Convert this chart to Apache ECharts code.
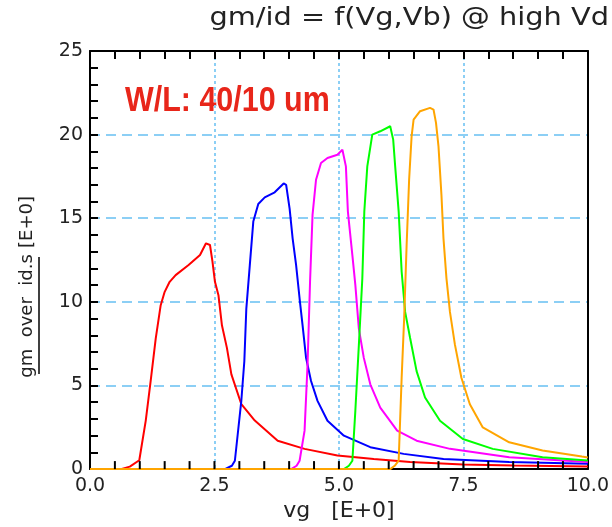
<!DOCTYPE html>
<html>
<head>
<meta charset="utf-8">
<script src="https://cdn.jsdelivr.net/npm/echarts@6/dist/echarts.min.js"></script>
<style>
  html, body { margin: 0; padding: 0; background: #fff; }
  #chart { width: 612px; height: 527px; }
</style>
</head>
<body>
<div id="chart"></div>
<script>
// gm/id versus gate voltage, one curve per body bias
const xTicks = [0, 2.5, 5, 7.5, 10];
const yTicks = [0, 5, 10, 15, 20, 25];
// small inward ticks along the bottom edge
const bottomTickVg = [0.5, 1, 1.5, 2, 2.5, 3, 3.5, 4, 4.5, 5, 5.5, 6, 6.5, 7, 7.5, 8, 8.5, 9, 9.5];

const redVg = [0, 0.62, 0.8, 0.99, 1.12, 1.22, 1.32, 1.42, 1.5, 1.6, 1.72, 1.98, 2.21, 2.33, 2.41, 2.46, 2.51, 2.58, 2.65, 2.75, 2.84, 3.04, 3.31, 3.77, 4.31, 4.97, 5.7, 6.43, 7.49, 8.5, 10];
const redGm = [0, 0, 0.15, 0.53, 2.9, 5.3, 7.8, 9.8, 10.6, 11.2, 11.6, 12.2, 12.8, 13.5, 13.4, 12.4, 11.2, 10.4, 8.6, 7.25, 5.66, 3.88, 2.9, 1.7, 1.21, 0.81, 0.61, 0.42, 0.28, 0.22, 0.16];

const blueVg = [0, 2.71, 2.85, 2.91, 3.04, 3.1, 3.14, 3.21, 3.28, 3.38, 3.51, 3.71, 3.89, 3.94, 4.01, 4.07, 4.14, 4.21, 4.27, 4.34, 4.44, 4.57, 4.77, 5.1, 5.63, 6.3, 7.1, 8.42, 10];
const blueGm = [0, 0, 0.2, 0.5, 4.1, 6.45, 9.6, 12.2, 14.8, 15.85, 16.25, 16.55, 17.08, 17.0, 15.56, 13.8, 12.2, 10.2, 8.6, 6.65, 5.27, 4.08, 2.89, 2.0, 1.31, 0.91, 0.61, 0.42, 0.32];

const magentaVg = [0, 4.04, 4.15, 4.21, 4.31, 4.37, 4.42, 4.47, 4.54, 4.64, 4.77, 4.97, 5.07, 5.14, 5.18, 5.27, 5.33, 5.4, 5.5, 5.63, 5.83, 6.17, 6.56, 7.23, 8.42, 10];
const magentaGm = [0, 0, 0.2, 0.5, 2.3, 6.25, 11.2, 15.2, 17.3, 18.3, 18.6, 18.8, 19.1, 18.1, 15.4, 12.8, 11.0, 8.4, 6.65, 5.07, 3.68, 2.3, 1.7, 1.21, 0.71, 0.42];

const greenVg = [0, 5.1, 5.2, 5.27, 5.33, 5.4, 5.47, 5.51, 5.57, 5.67, 5.83, 6.03, 6.09, 6.13, 6.2, 6.26, 6.33, 6.43, 6.56, 6.73, 7.03, 7.49, 8.09, 9.09, 10];
const greenGm = [0, 0, 0.2, 0.5, 3.5, 7.4, 11.4, 15.4, 18.1, 20.0, 20.2, 20.5, 19.7, 18.1, 15.4, 11.8, 9.4, 7.84, 5.86, 4.28, 2.89, 1.8, 1.21, 0.71, 0.52];

const orangeVg = [0, 6.03, 6.12, 6.2, 6.26, 6.31, 6.36, 6.41, 6.46, 6.5, 6.63, 6.83, 6.9, 6.95, 7.0, 7.06, 7.1, 7.16, 7.23, 7.33, 7.46, 7.63, 7.89, 8.42, 9.09, 9.88, 10];
const orangeGm = [0, 0, 0.2, 0.5, 5.46, 9.0, 13.4, 17.3, 19.9, 20.9, 21.4, 21.6, 21.5, 20.7, 19.3, 16.35, 13.8, 11.4, 9.4, 7.44, 5.46, 3.88, 2.49, 1.6, 1.11, 0.75, 0.7];

const curves = [
  { name: 'red', vg: redVg, gm: redGm, color: '#ff0000' },
  { name: 'blue', vg: blueVg, gm: blueGm, color: '#0000ff' },
  { name: 'magenta', vg: magentaVg, gm: magentaGm, color: '#ff00ff' },
  { name: 'green', vg: greenVg, gm: greenGm, color: '#00ff00' },
  { name: 'orange', vg: orangeVg, gm: orangeGm, color: '#ffa500' }
];

const gridBlue = '#8ccff5';
const xMin = xTicks[0], xMax = xTicks[xTicks.length - 1];
const yMin = yTicks[0], yMax = yTicks[yTicks.length - 1];
const xStep = xTicks[1] - xTicks[0];
const yStep = yTicks[1] - yTicks[0];

function labelFont() {
  return { fontFamily: 'DejaVu Sans', fontSize: 19, color: '#222' };
}
function tickStyle() {
  return { show: true, inside: true, length: 8, lineStyle: { color: '#000', width: 2 } };
}
function minorStyle() {
  return { show: true, splitNumber: 5, length: 8, lineStyle: { color: '#000', width: 2 } };
}
function frameLine() {
  return { show: true, onZero: false, lineStyle: { color: '#000', width: 2 } };
}

const chart = echarts.init(document.getElementById('chart'), null, { renderer: 'canvas' });

const curveSeries = curves.map(c => ({
  name: c.name,
  type: 'line',
  xAxisIndex: 0, yAxisIndex: 0,
  z: 2,
  data: c.vg.map((v, i) => [v, c.gm[i]]),
  showSymbol: false,
  clip: false,
  lineStyle: { color: c.color, width: 2 },
  itemStyle: { color: c.color }
}));

// bottom-edge ticks, placed through the x scale and drawn over the curves
const bottomTickSeries = {
  name: 'bottom ticks',
  type: 'custom',
  xAxisIndex: 0, yAxisIndex: 0,
  z: 6,
  silent: true,
  clip: false,
  data: bottomTickVg.map(v => [v, yMin]),
  encode: { x: 0, y: 1 },
  renderItem: (params, api) => {
    const p = api.coord([api.value(0), api.value(1)]);
    return {
      type: 'line',
      shape: { x1: p[0], y1: p[1], x2: p[0], y2: p[1] - 8 },
      style: { stroke: '#000', lineWidth: 2 }
    };
  }
};

chart.setOption({
  animation: false,
  backgroundColor: '#fff',
  grid: { left: 90, right: 21, top: 51, bottom: 55, containLabel: false },
  xAxis: [
    {
      // bottom frame, labels, name and vertical grid lines (under the curves)
      type: 'value', min: xMin, max: xMax, interval: xStep,
      position: 'bottom', z: 0,
      name: 'vg   [E+0]', nameLocation: 'middle', nameGap: 28,
      nameTextStyle: { fontFamily: 'DejaVu Sans', fontSize: 22, color: '#222' },
      axisLine: frameLine(),
      axisTick: { show: false },
      axisLabel: Object.assign({ margin: 7, formatter: v => v.toFixed(1) }, labelFont()),
      splitLine: { show: true, lineStyle: { color: gridBlue, type: [3, 3], width: 2 } }
    },
    {
      // top frame with inward ticks
      type: 'value', min: xMin, max: xMax, interval: xStep,
      position: 'top', z: 5,
      axisLine: frameLine(),
      axisTick: tickStyle(), minorTick: minorStyle(),
      axisLabel: { show: false }, splitLine: { show: false }
    }
  ],
  yAxis: [
    {
      type: 'value', min: yMin, max: yMax, interval: yStep,
      position: 'left',
      axisLine: frameLine(),
      axisTick: tickStyle(), minorTick: minorStyle(),
      axisLabel: Object.assign({ margin: 7 }, labelFont()),
      splitLine: { show: true, lineStyle: { color: gridBlue, type: [10, 6], width: 2 } }
    },
    {
      type: 'value', min: yMin, max: yMax, interval: yStep,
      position: 'right',
      axisLine: frameLine(),
      axisTick: { show: false }, axisLabel: { show: false }, splitLine: { show: false }
    }
  ],
  series: curveSeries.concat([bottomTickSeries]),
  graphic: [
    {
      // chart title, right-aligned at the top edge
      type: 'text', x: 609, y: 19, scaleX: 1.2,
      style: { text: 'gm/id = f(Vg,Vb) @ high Vd', fontFamily: 'DejaVu Sans', fontSize: 24, fill: '#222', align: 'right', verticalAlign: 'middle' }
    },
    {
      type: 'text', left: 125, top: 84, scaleX: 0.87,
      style: { text: 'W/L: 40/10 um', fontFamily: 'Liberation Sans', fontWeight: 'bold', fontSize: 35, fill: '#e8261a' }
    },
    {
      type: 'text', x: 27, y: 316, rotation: Math.PI / 2,
      style: { text: 'gm  over  id.s', fontFamily: 'DejaVu Sans', fontSize: 18, fill: '#222', align: 'center', verticalAlign: 'middle' }
    },
    {
      type: 'text', x: 27, y: 222, rotation: Math.PI / 2,
      style: { text: '[E+0]', fontFamily: 'DejaVu Sans', fontSize: 18, fill: '#222', align: 'center', verticalAlign: 'middle' }
    },
    {
      type: 'line', shape: { x1: 39, y1: 257, x2: 39, y2: 374 },
      style: { stroke: '#000', lineWidth: 1.5 }
    }
  ]
});
</script>
</body>
</html>
